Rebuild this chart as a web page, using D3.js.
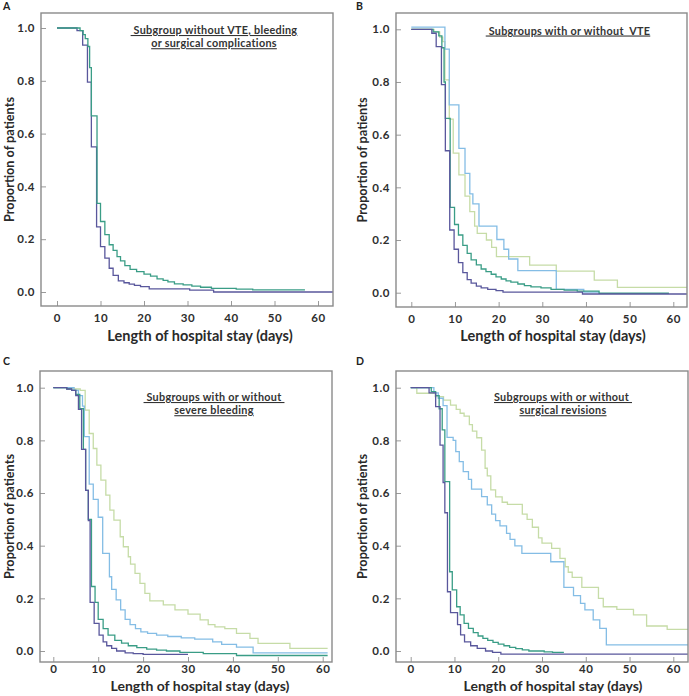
<!DOCTYPE html>
<html><head><meta charset="utf-8">
<script src="https://cdn.jsdelivr.net/npm/d3@7"></script>
<style>
html,body{margin:0;padding:0;background:#fff;}
svg{display:block;font-family:Lato,"Open Sans",sans-serif;}
</style></head>
<body><svg id="chart" width="689" height="696"></svg>
<script>
// ---------- DATA (day, proportion) step points ----------
const xTicks = [0, 10, 20, 30, 40, 50, 60];
const yTicks = [0, 0.2, 0.4, 0.6, 0.8, 1.0];
const panelLetters = ["A", "B", "C", "D"];
const panelTitles = [
  ["\u00a0Subgroup without VTE, bleeding", "or surgical complications"],
  ["\u00a0Subgroups with or without  VTE"],
  ["\u00a0Subgroups with or without\u00a0", "severe bleeding"],
  ["Subgroups with or without\u00a0", "surgical revisions"]
];
const xLabel = "Length of hospital stay (days)";
const yLabel = "Proportion of patients";

const A_purple = [[0,1],[4.6,0.99],[5.9,0.935],[7.0,0.795],[7.9,0.55],[9.1,0.247],[10.0,0.172],[11.0,0.128],[12.0,0.09],[12.9,0.063],[14.1,0.042],[15.4,0.035],[16.6,0.03],[17.8,0.025],[19.2,0.02],[21.2,0.012],[30.5,0.007],[36.0,0.0],[64,0.0]];
const A_teal = [[0,1],[5.3,0.99],[6.0,0.975],[6.5,0.96],[7.1,0.93],[7.5,0.85],[7.9,0.667],[9.2,0.336],[10.0,0.267],[11.0,0.217],[12.0,0.179],[12.9,0.158],[13.8,0.134],[14.6,0.118],[15.6,0.1],[16.8,0.086],[18.3,0.077],[20.0,0.068],[21.5,0.06],[23.0,0.05],[24.4,0.044],[25.5,0.038],[27.0,0.031],[29.0,0.027],[31.0,0.022],[33.0,0.018],[35.5,0.014],[41.2,0.011],[45.0,0.008],[57.0,0.008]];

const B_purple = [[0,1],[4.7,0.985],[5.7,0.934],[6.9,0.79],[7.8,0.539],[8.8,0.238],[9.8,0.165],[10.8,0.114],[11.8,0.076],[12.8,0.05],[13.7,0.036],[14.9,0.025],[16.0,0.018],[17.5,0.013],[19.4,0.008],[21.0,0.002],[39.2,-0.005],[64,-0.005]];
const B_teal = [[0,1],[5.0,0.99],[6.3,0.975],[7.0,0.93],[7.5,0.8],[7.8,0.662],[8.9,0.324],[9.9,0.259],[10.8,0.219],[11.8,0.18],[12.8,0.149],[13.7,0.125],[14.9,0.106],[16.0,0.09],[17.1,0.08],[18.3,0.07],[19.4,0.06],[20.6,0.052],[21.7,0.045],[22.8,0.04],[24.4,0.033],[25.9,0.027],[27.4,0.022],[29.7,0.018],[32.0,0.013],[35.0,0.01],[38.0,0.006],[43.0,-0.002],[59.0,-0.002]];
const B_blue = [[0,1.008],[7.7,0.925],[8.7,0.713],[10.9,0.548],[12.3,0.453],[13.4,0.375],[14.1,0.337],[15.5,0.253],[19.6,0.202],[21.2,0.165],[22.3,0.128],[24.4,0.084],[33.2,0.013],[39.5,0.002],[43.0,0.002]];
const B_green = [[0,1],[5.2,0.99],[6.5,0.97],[7.2,0.953],[7.7,0.808],[8.7,0.659],[9.6,0.53],[10.9,0.447],[12.3,0.367],[13.4,0.308],[14.5,0.253],[15.1,0.225],[17.2,0.2],[18.4,0.172],[19.5,0.137],[27.1,0.105],[33.2,0.082],[41.9,0.048],[47.2,0.02],[64,0.02]];

const C_purple = [[0,1],[3.0,0.995],[4.1,0.99],[5.0,0.97],[5.6,0.918],[6.3,0.766],[7.2,0.61],[7.8,0.495],[8.2,0.185],[9.1,0.105],[10.2,0.06],[11.1,0.035],[11.9,0.02],[13.0,0.01],[14.1,0.0],[16.0,-0.007],[17.8,-0.01],[20.0,-0.013],[30.0,-0.013]];
const C_teal = [[0,1],[3.0,0.995],[4.1,0.99],[5.0,0.975],[5.9,0.92],[6.7,0.766],[7.2,0.61],[7.8,0.5],[8.5,0.245],[9.3,0.185],[10.0,0.12],[11.1,0.085],[12.2,0.06],[13.7,0.04],[15.2,0.03],[16.7,0.02],[18.6,0.013],[20.8,0.007],[23.0,0.003],[25.2,0.0],[28.2,-0.005],[33.4,-0.01],[40.8,-0.017],[61.1,-0.017]];
const C_blue = [[0,1],[4.6,0.99],[5.6,0.97],[6.5,0.93],[6.9,0.814],[8.0,0.634],[8.9,0.576],[10.0,0.508],[11.0,0.371],[12.5,0.282],[13.0,0.234],[14.0,0.194],[15.0,0.156],[16.0,0.12],[17.1,0.1],[18.3,0.085],[19.5,0.073],[21.0,0.067],[23.0,0.06],[25.5,0.055],[28.5,0.05],[31.5,0.045],[35.5,0.035],[37.5,0.025],[40.8,0.015],[44.5,-0.007],[61.1,-0.007]];
const C_green = [[0,1],[4.6,0.995],[6.0,0.99],[7.1,0.915],[8.0,0.826],[8.9,0.769],[9.7,0.706],[10.6,0.649],[11.7,0.592],[12.6,0.535],[13.5,0.497],[14.9,0.434],[15.6,0.396],[16.7,0.358],[17.2,0.33],[18.2,0.295],[19.3,0.257],[20.4,0.219],[21.5,0.19],[24.5,0.175],[27.1,0.156],[30.0,0.14],[32.7,0.118],[34.5,0.1],[36.0,0.092],[38.2,0.085],[40.8,0.067],[43.8,0.048],[45.6,0.029],[52.7,0.01],[61.1,0.01]];

const D_purple = [[0,1],[4.2,0.98],[5.7,0.928],[6.7,0.782],[7.4,0.64],[7.8,0.525],[8.4,0.225],[9.1,0.146],[10.7,0.1],[11.4,0.061],[12.3,0.035],[13.7,0.02],[15.2,0.01],[17.1,0.0],[18.7,-0.005],[20.6,-0.012],[64,-0.012]];
const D_teal = [[0,1],[4.7,0.985],[5.7,0.97],[6.5,0.92],[7.2,0.84],[7.8,0.643],[8.9,0.301],[9.5,0.232],[10.5,0.168],[11.3,0.137],[12.2,0.105],[13.2,0.086],[14.3,0.07],[15.4,0.057],[16.5,0.048],[17.6,0.04],[18.8,0.033],[20.0,0.026],[21.3,0.02],[22.6,0.014],[24.0,0.009],[25.5,0.004],[27.0,0.0],[30.5,-0.003],[32.4,-0.005],[35.0,-0.005]];
const D_blue = [[0,1],[5.3,0.98],[6.3,0.96],[7.4,0.932],[8.3,0.811],[9.7,0.8],[10.3,0.757],[11.1,0.719],[12.0,0.681],[13.2,0.652],[13.9,0.615],[16.2,0.586],[17.5,0.555],[18.5,0.52],[19.4,0.495],[20.4,0.475],[21.9,0.447],[22.7,0.424],[23.8,0.399],[25.4,0.371],[32.0,0.339],[35.0,0.242],[37.2,0.21],[38.8,0.181],[39.8,0.156],[41.7,0.118],[43.2,0.086],[44.7,0.023],[64,0.023]];
const D_green = [[0,1],[1.4,0.979],[5.6,0.966],[7.5,0.953],[9.1,0.934],[10.4,0.918],[11.3,0.903],[12.2,0.892],[13.4,0.86],[14.1,0.835],[15.1,0.81],[16.2,0.763],[17.0,0.694],[17.5,0.665],[18.3,0.612],[19.4,0.585],[20.9,0.565],[22.1,0.557],[25.5,0.52],[26.6,0.5],[27.8,0.47],[29.2,0.43],[30.0,0.41],[32.2,0.39],[34.1,0.352],[35.3,0.32],[36.0,0.299],[36.9,0.28],[39.1,0.242],[42.9,0.2],[44.0,0.168],[47.1,0.158],[50.9,0.137],[53.9,0.095],[58.6,0.082],[64,0.082]];

const seriesColors = {purple:"#59579c", teal:"#3a9d86", blue:"#84bde5", green:"#c6dca7"};

// ---------- LAYOUT ----------
const layout = [
  {frame:[41,13,333,306], xr:[57,318], yr:[292,28], ylx:9, xlx:200, xly:341, xfs:14.5, tpad:8, lx:3, ly:10, tx:214, ty:[34,47.2],
   series:[["purple",A_purple],["teal",A_teal]]},
  {frame:[396,13,687,307], xr:[411.3,673.3], yr:[292.7,29.3], ylx:362, xlx:553, xly:341, xfs:14.5, tpad:8, lx:356, ly:10, tx:568, ty:[34.5],
   series:[["green",B_green],["blue",B_blue],["teal",B_teal],["purple",B_purple]]},
  {frame:[40,371,332,662], xr:[53.3,322.7], yr:[651,387.7], ylx:9, xlx:200, xly:690.5, xfs:14, tpad:3, lx:3, ly:365, tx:214, ty:[401,414.2],
   series:[["green",C_green],["blue",C_blue],["teal",C_teal],["purple",C_purple]]},
  {frame:[396,371,688,662], xr:[410.7,673.3], yr:[651,387.7], ylx:362, xlx:553, xly:690.5, xfs:14, tpad:3, lx:356, ly:365, tx:563, ty:[401,414.2],
   series:[["green",D_green],["blue",D_blue],["teal",D_teal],["purple",D_purple]]}
];

const svg = d3.select("#chart");
const defs = svg.append("defs");

layout.forEach((p, i) => {
  const [fx0, fy0, fx1, fy1] = p.frame;
  const x = d3.scaleLinear().domain([0, 60]).range(p.xr);
  const y = d3.scaleLinear().domain([0, 1]).range(p.yr);
  const g = svg.append("g");

  defs.append("clipPath").attr("id", "clip" + i)
    .append("rect").attr("x", fx0).attr("y", fy0).attr("width", fx1 - fx0).attr("height", fy1 - fy0);

  // axes
  const ya = g.append("g").attr("transform", `translate(${fx0},0)`)
    .call(d3.axisLeft(y).tickValues(yTicks).tickFormat(d3.format(".1f")).tickSizeInner(-5).tickSizeOuter(0).tickPadding(6));
  const xa = g.append("g").attr("transform", `translate(0,${fy1})`)
    .call(d3.axisBottom(x).tickValues(xTicks).tickFormat(d3.format("d")).tickSizeInner(-5).tickSizeOuter(0).tickPadding(p.tpad));
  [ya, xa].forEach(a => {
    a.select(".domain").remove();
    a.selectAll(".tick line").attr("stroke", "#9a9a9a").attr("stroke-width", 1);
    a.selectAll(".tick text").attr("fill", "#2e2e2e").style("font-size", "11.5px").style("font-weight", "700")
      .style("font-family", "Lato, sans-serif").style("letter-spacing", "0.6px");
  });

  // curves
  const line = d3.line().x(d => x(d[0])).y(d => y(d[1])).curve(d3.curveStepAfter);
  const cg = g.append("g").attr("clip-path", `url(#clip${i})`);
  p.series.forEach(([c, data]) => {
    cg.append("path").datum(data).attr("d", line)
      .attr("fill", "none").attr("stroke", seriesColors[c]).attr("stroke-width", 1.3);
  });

  // frame
  g.append("rect").attr("x", fx0).attr("y", fy0).attr("width", fx1 - fx0).attr("height", fy1 - fy0)
    .attr("fill", "none").attr("stroke", "#8a8a8a").attr("stroke-width", 1.4);

  // labels
  g.append("text").attr("x", p.lx).attr("y", p.ly).text(panelLetters[i])
    .style("font-size", "10.5px").style("font-weight", "700").attr("fill", "#222");
  g.append("text").attr("transform", `translate(${p.ylx + 4.5},${(fy0 + fy1) / 2}) rotate(-90)`)
    .attr("text-anchor", "middle").text(yLabel)
    .style("font-size", "12.7px").style("font-weight", "700").attr("fill", "#2a2a2a");
  g.append("text").attr("x", p.xlx).attr("y", p.xly).attr("text-anchor", "middle").text(xLabel)
    .style("font-size", p.xfs + "px").style("font-weight", "700").attr("fill", "#2a2a2a");
  panelTitles[i].forEach((t, k) => {
    g.append("text").attr("x", p.tx).attr("y", p.ty[k]).attr("text-anchor", "middle")
      .style("white-space", "pre").style("text-decoration", "underline")
      .style("font-size", "10.8px").style("letter-spacing", "0.3px")
      .style("font-weight", "700").attr("fill", "#333").text(t);
  });
});
</script></body></html>
